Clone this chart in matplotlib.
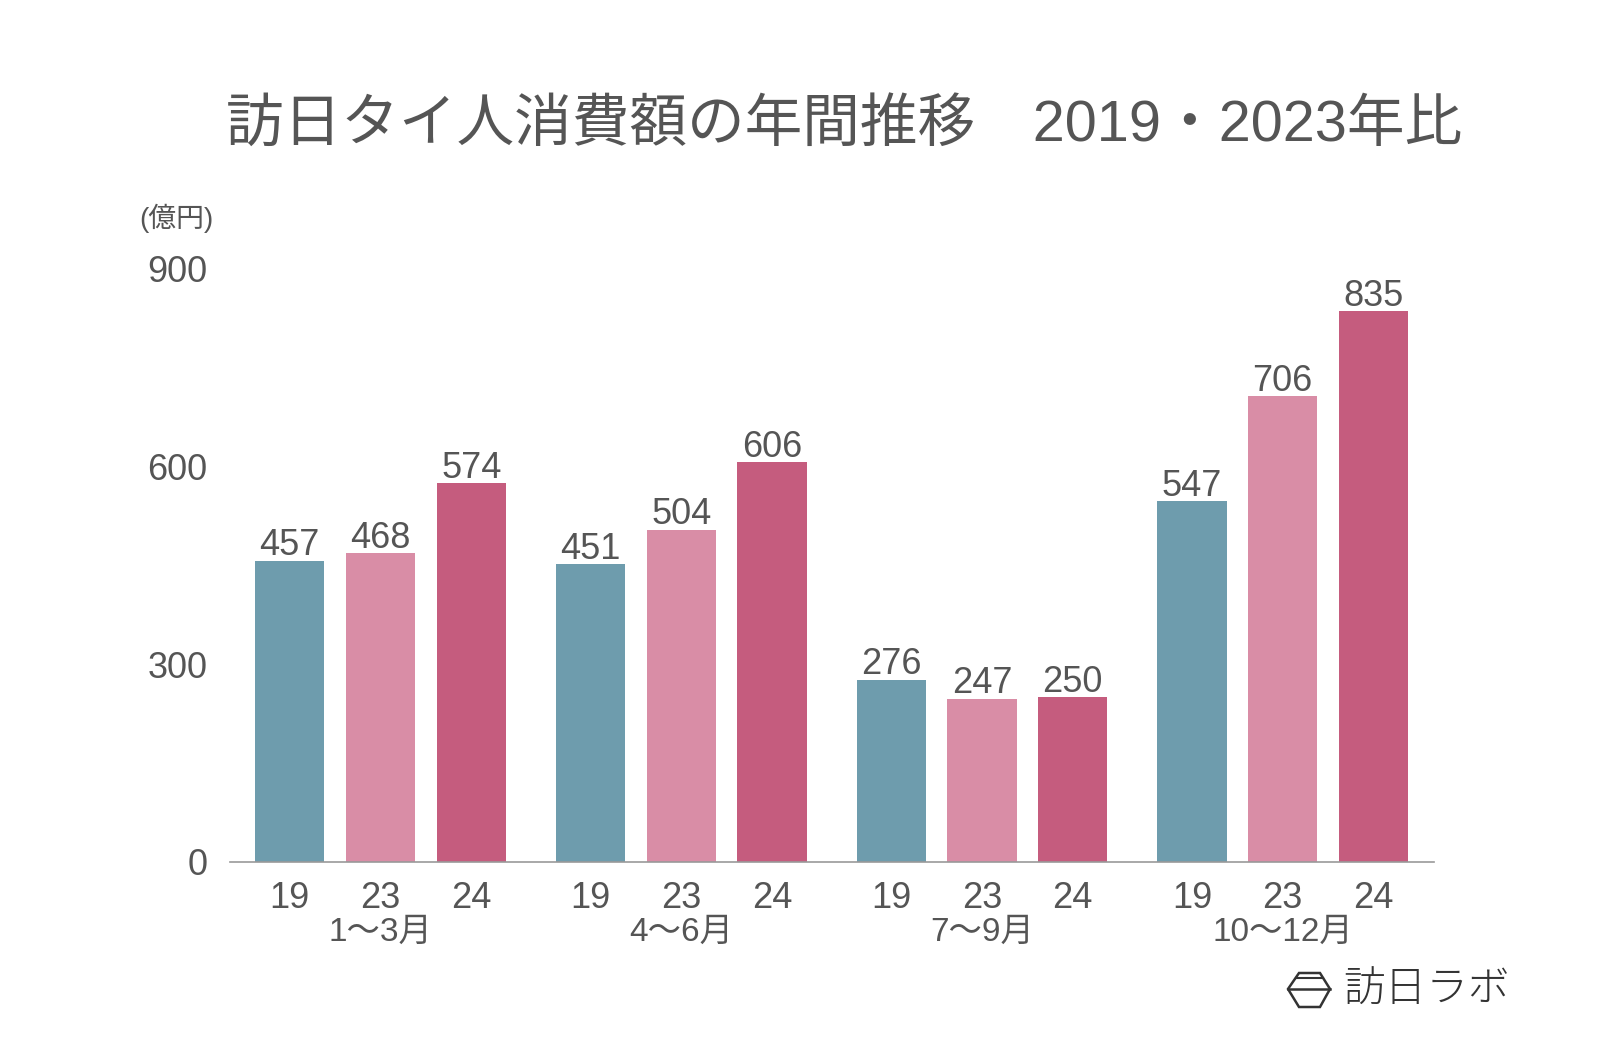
import numpy as np
import matplotlib
matplotlib.use('Agg')
import matplotlib.pyplot as plt
from matplotlib.patches import Polygon
from matplotlib.lines import Line2D

plt.rcParams['font.family'] = ['Liberation Sans', 'Noto Sans CJK JP', 'DejaVu Sans']

# data
quarters  = ["1〜3月", "4〜6月", "7〜9月", "10〜12月"]
years     = ["19", "23", "24"]
v2019     = [457, 451, 276, 547]
v2023     = [468, 504, 247, 706]
v2024     = [574, 606, 250, 835]
y_ticks   = [0, 300, 600, 900]

colors = ["#6E9CAD", "#D98DA6", "#C55C7E"]
TXT = "#555555"

fig = plt.figure(figsize=(16, 10.48), dpi=100, facecolor="white")
ax = fig.add_axes([0.1435, 0.1775, 0.7525, 0.5665])

GROUP = 3.315
WIDTH = 0.764
centers = np.arange(len(quarters)) * GROUP

series = [v2019, v2023, v2024]
tick_pos, tick_lab = [], []
for k, vals in enumerate(series):
    xs = centers + (k - 1)
    ax.bar(xs, vals, width=WIDTH, color=colors[k], zorder=2)
    for x, v in zip(xs, vals):
        ax.annotate(str(v), (x, v), xytext=(0, 4), textcoords="offset points",
                    ha="center", va="baseline", fontsize=26, color=TXT)
    tick_pos += list(xs)
    tick_lab += [years[k]] * len(xs)

ax.set_xlim(-1.663, 3 * GROUP + 1.663)
ax.set_ylim(0, 900)

ax.set_xticks(tick_pos)
ax.set_xticklabels(tick_lab, fontsize=26, color=TXT)
ax.tick_params(axis="x", length=0, pad=14)
ax.set_yticks(y_ticks)
ax.set_yticklabels([str(t) for t in y_ticks], fontsize=26, color=TXT)
ax.tick_params(axis="y", length=0, pad=16)

for c, q in zip(centers, quarters):
    ax.text(c, -0.118, q, transform=ax.get_xaxis_transform(),
            ha="center", va="center", fontsize=24, color=TXT)

for s in ["top", "right", "left"]:
    ax.spines[s].set_visible(False)
ax.spines["bottom"].set_color("#999999")
ax.spines["bottom"].set_linewidth(1.2)

fig.text(0.5277, 0.880, "訪日タイ人消費額の年間推移　2019・2023年比",
         ha="center", va="center", fontsize=41.5, color=TXT)
fig.text(0.110, 0.792, "(億円)", ha="center", va="center",
         fontsize=20, color=TXT)

# logo
w, h = 1600.0, 1048.0
hx = np.array([1288, 1299, 1320, 1330, 1320, 1299]) / w
hy = 1 - np.array([989, 973, 973, 989, 1007, 1007]) / h
fig.patches.append(Polygon(np.c_[hx, hy], closed=True, fill=False,
                           edgecolor="#333333", lw=1.8,
                           transform=fig.transFigure))
fig.lines.append(Line2D([1288 / w, 1330 / w], [1 - 989 / h, 1 - 989 / h],
                        color="#333333", lw=1.8, transform=fig.transFigure))
fig.lines.append(Line2D([1296 / w, 1323 / w], [1 - 978 / h, 1 - 978 / h],
                        color="#333333", lw=1.5, transform=fig.transFigure))
fig.text(1343 / w, 1 - 990 / h, "訪日ラボ", family="Noto Sans CJK JP",
         ha="left", va="center", fontsize=30, color="#333333",
         fontweight="light")

fig.savefig("out.png", dpi=100, facecolor="white")
